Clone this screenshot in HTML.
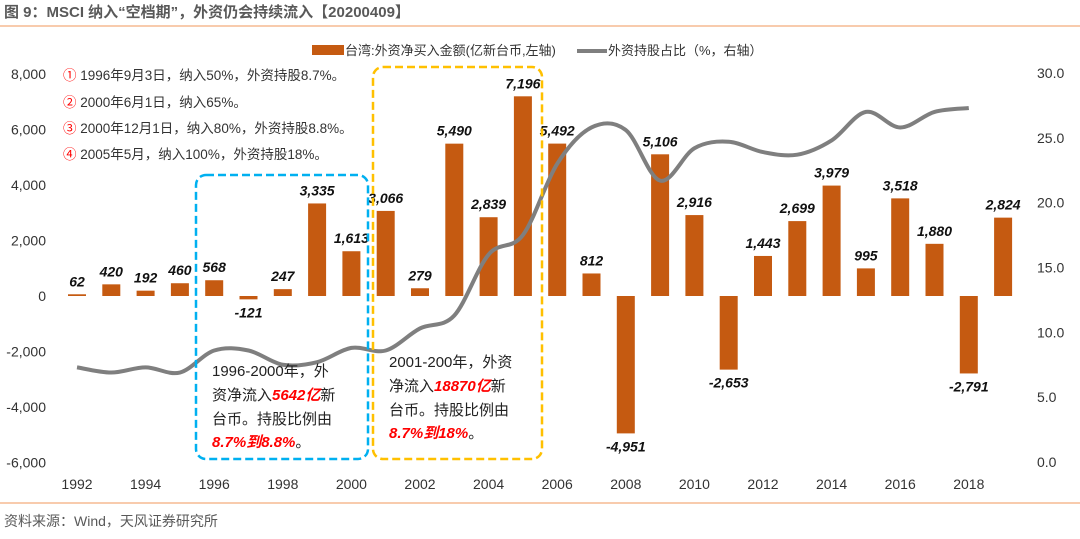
<!DOCTYPE html>
<html><head><meta charset="utf-8">
<style>
body{margin:0;background:#fff;width:1080px;height:534px;overflow:hidden;font-family:"Liberation Sans","Noto Sans CJK SC",sans-serif;}
svg text{font-family:"Liberation Sans","Noto Sans CJK SC",sans-serif;}
</style></head>
<body>
<svg id="chart" width="1080" height="534">
<text x="4" y="17" font-size="15" font-weight="bold" fill="#595959">图 9：MSCI 纳入“空档期”，外资仍会持续流入【20200409】</text>
<line x1="0" y1="26" x2="1080" y2="26" stroke="#F8CBAD" stroke-width="2"/>
<line x1="0" y1="503" x2="1080" y2="503" stroke="#F8CBAD" stroke-width="2"/>
<text x="4" y="526" font-size="14" fill="#595959">资料来源：Wind，天风证券研究所</text>
<g>
<rect x="312" y="45" width="32" height="10" fill="#C55A11"/>
<text x="345" y="55" font-size="13" fill="#333">台湾:外资净买入金额(亿新台币,左轴)</text>
<line x1="577" y1="51" x2="607" y2="51" stroke="#7F7F7F" stroke-width="4"/>
<text x="608" y="55" font-size="13" fill="#333">外资持股占比（%，右轴）</text>
</g>
<g id="axes"></g>
<g id="bars"></g>
<path id="line" fill="none" stroke="#7F7F7F" stroke-width="4"/>
<g id="labels"></g>
<g font-size="13.5" fill="#333">
<text x="63" y="80"><tspan fill="#FF0000">①</tspan> 1996年9月3日，纳入50%，外资持股8.7%。</text>
<text x="63" y="107"><tspan fill="#FF0000">②</tspan> 2000年6月1日，纳入65%。</text>
<text x="63" y="133"><tspan fill="#FF0000">③</tspan> 2000年12月1日，纳入80%，外资持股8.8%。</text>
<text x="63" y="159"><tspan fill="#FF0000">④</tspan> 2005年5月，纳入100%，外资持股18%。</text>
</g>
<rect x="196" y="175" width="172" height="284" rx="10" fill="none" stroke="#00B0F0" stroke-width="2.5" stroke-dasharray="8,4"/>
<rect x="373" y="67" width="169" height="392" rx="10" fill="none" stroke="#FFC000" stroke-width="2.5" stroke-dasharray="8,4"/>
<g font-size="15" fill="#222">
<text x="212" y="376">1996-2000年，外</text>
<text x="212" y="400">资净流入<tspan fill="#FF0000" font-weight="bold" font-style="italic">5642亿</tspan>新</text>
<text x="212" y="424">台币。持股比例由</text>
<text x="212" y="447"><tspan fill="#FF0000" font-weight="bold" font-style="italic">8.7%到8.8%</tspan>。</text>
</g>
<g font-size="15" fill="#222">
<text x="389" y="367">2001-200年，外资</text>
<text x="389" y="391">净流入<tspan fill="#FF0000" font-weight="bold" font-style="italic">18870亿</tspan>新</text>
<text x="389" y="415">台币。持股比例由</text>
<text x="389" y="438"><tspan fill="#FF0000" font-weight="bold" font-style="italic">8.7%到18%</tspan>。</text>
</g>
</svg>
<script>
const years=[1992,1993,1994,1995,1996,1997,1998,1999,2000,2001,2002,2003,2004,2005,2006,2007,2008,2009,2010,2011,2012,2013,2014,2015,2016,2017,2018,2019];
const netBuy=[62,420,192,460,568,-121,247,3335,1613,3066,279,5490,2839,7196,5492,812,-4951,5106,2916,-2653,1443,2699,3979,995,3518,1880,-2791,2824];
const lineYears=[1992,1993,1994,1995,1996,1997,1998,1999,2000,2001,2002,2003,2004,2005,2006,2007,2008,2009,2010,2011,2012,2013,2014,2015,2016,2017,2018];
const ratio=[7.3,6.9,7.3,6.9,8.6,8.6,7.5,7.7,8.8,8.6,10.3,11.3,16.0,17.5,23.0,25.8,25.6,21.7,24.2,24.7,23.9,23.7,24.8,27.0,25.8,27.0,27.3];
const leftTicks=[8000,6000,4000,2000,0,-2000,-4000,-6000];
const rightTicks=[30,25,20,15,10,5,0];
const xTicks=[1992,1994,1996,1998,2000,2002,2004,2006,2008,2010,2012,2014,2016,2018];
const NS='http://www.w3.org/2000/svg';
const x=yr=>77+(yr-1992)*34.3;
const yL=v=>296-v*(222/8000);
const yR=v=>462-v*(389/30);
function mk(tag,attrs,parent,txt){const e=document.createElementNS(NS,tag);for(const k in attrs)e.setAttribute(k,attrs[k]);if(txt!==undefined)e.textContent=txt;document.getElementById(parent).appendChild(e);return e;}
leftTicks.forEach(v=>{const t=mk('text',{x:46,y:yL(v)+5,'font-size':14,fill:'#333','text-anchor':'end'},'axes',v.toLocaleString('en-US'));

});
rightTicks.forEach(v=>{const t=mk('text',{x:1037,y:yR(v)+5,'font-size':14,fill:'#333'},'axes',v.toFixed(1));

});
xTicks.forEach(v=>{const t=mk('text',{x:x(v),y:489,'font-size':14,fill:'#333','text-anchor':'middle'},'axes',String(v));

});
years.forEach((yr,i)=>{const v=netBuy[i];const y0=yL(0),y1=yL(v);
const r=mk('rect',{x:x(yr)-9,y:Math.min(y0,y1),width:18,height:Math.max(1,Math.abs(y1-y0)),fill:'#C55A11'},'bars');


const ly=v>=0?y1-8:y1+18;
const t=mk('text',{x:x(yr),y:ly,'font-size':14,'font-weight':'bold','font-style':'italic',fill:'#111','text-anchor':'middle'},'labels',v.toLocaleString('en-US'));

});
const pts=lineYears.map((yr,i)=>[x(yr),yR(ratio[i])]);
let d='M'+pts[0][0]+','+pts[0][1];
for(let i=0;i<pts.length-1;i++){const p0=pts[Math.max(0,i-1)],p1=pts[i],p2=pts[i+1],p3=pts[Math.min(pts.length-1,i+2)];
const c1=[p1[0]+(p2[0]-p0[0])/6,p1[1]+(p2[1]-p0[1])/6],c2=[p2[0]-(p3[0]-p1[0])/6,p2[1]-(p3[1]-p1[1])/6];
d+=' C'+c1+' '+c2+' '+p2;}
document.getElementById('line').setAttribute('d',d);
</script>
</body></html>
